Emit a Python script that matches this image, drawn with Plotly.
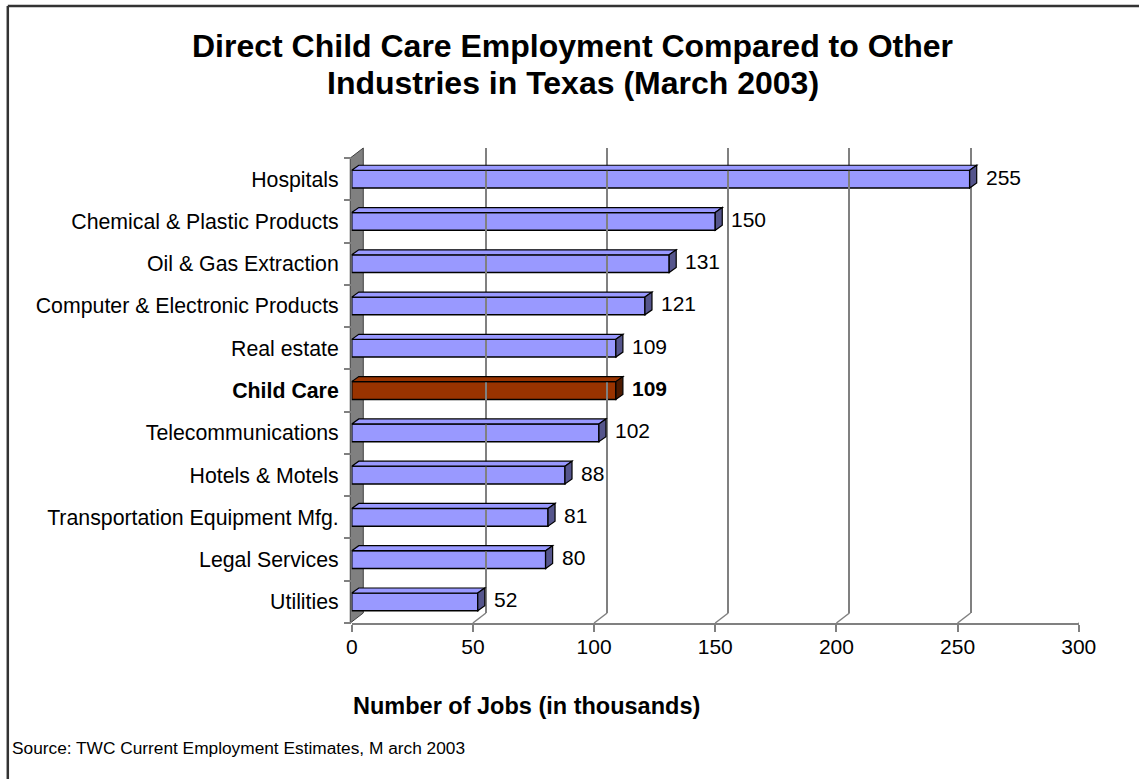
import plotly.graph_objects as go

# ---------------- data ----------------
categories = ["Hospitals", "Chemical & Plastic Products", "Oil & Gas Extraction",
              "Computer & Electronic Products", "Real estate", "Child Care",
              "Telecommunications", "Hotels & Motels", "Transportation Equipment Mfg.",
              "Legal Services", "Utilities"]
values = [255, 150, 131, 121, 109, 109, 102, 88, 81, 80, 52]
highlight = "Child Care"
x_ticks = [0, 50, 100, 150, 200, 250, 300]

title_line1 = "Direct Child Care Employment Compared to Other"
title_line2 = "Industries in Texas (March 2003)"
xaxis_title = "Number of Jobs (in thousands)"
source_text = "Source: TWC Current Employment Estimates, M arch 2003"

# ---------------- style / geometry ----------------
# The photographed page maps page-x to picture-x as  sx = KX * x + BX,
# so horizontal positions are given in picture pixels and converted.
KX, BX = 0.978, 6.2
W, H = 1160, 779
FONT = "Arial, Liberation Sans, sans-serif"
BAR = "#9999FF"; BAR_SIDE = "#55558C"
HI = "#993300"; HI_SIDE = "#4D1A00"
GRID = "#808080"

def px(sx):
    return ((sx - BX) / KX) / W

def py(y):
    return 1 - y / H

# front plane (bars, tick labels), picture pixels
FX0, FX1 = 351.5, 1077.5
FY0, FY1 = 158, 623
# back plane (gridlines), 3-D depth offset
DX, DY = 13, 10
XMAX = x_ticks[-1]
scale = (FX1 - FX0) / XMAX
n = len(categories)
idx = list(range(n))
bw = 0.42
dx_u = 7 / scale              # bar depth in data units (x)
dy_u = 5 / ((FY1 - FY0) / n)  # bar depth in data units (y)

colors = [HI if c == highlight else BAR for c in categories]
side_colors = [HI_SIDE if c == highlight else BAR_SIDE for c in categories]
ticktext = [f"<b>{c}</b>" if c == highlight else c for c in categories]

fig = go.Figure()
fig.add_trace(go.Bar(
    x=values, y=idx, orientation="h", width=bw,
    marker=dict(color=colors, line=dict(color="black", width=1.5)),
    hoverinfo="skip", showlegend=False))
# invisible trace to hold the back-wall axes
fig.add_trace(go.Scatter(x=[None], y=[None], xaxis="x2", yaxis="y2",
                         showlegend=False, hoverinfo="skip"))

shapes = []
# outer border (only top and left edges are inside the picture)
shapes.append(dict(type="line", xref="paper", yref="paper",
                   x0=px(8), x1=1, y0=py(6), y1=py(6),
                   line=dict(color="#333333", width=2.5), layer="below"))
shapes.append(dict(type="line", xref="paper", yref="paper",
                   x0=px(8), x1=px(8), y0=0, y1=py(6),
                   line=dict(color="#333333", width=2.5), layer="below"))
# left grey wall
wall = (f"M {px(350)},{py(FY1)} L {px(350 + DX)},{py(FY1 - DY)} "
        f"L {px(350 + DX)},{py(FY0 - DY)} L {px(350)},{py(FY0)} Z")
shapes.append(dict(type="path", xref="paper", yref="paper", path=wall,
                   fillcolor="#808080", line=dict(color="#404040", width=1), layer="below"))
# floor diagonals from front ticks to back gridlines
for t in x_ticks[1:]:
    shapes.append(dict(type="line", xref="x", yref="paper",
                       x0=t, x1=t + DX / scale, y0=py(FY1), y1=py(FY1 - DY),
                       line=dict(color=GRID, width=1.5), layer="below"))
# 3-D faces of bars
for i, v in enumerate(values):
    yt = i - bw / 2
    yb = i + bw / 2
    top = (f"M 0,{yt} L {v},{yt} L {v + dx_u},{yt - dy_u} L {dx_u},{yt - dy_u} Z")
    side = (f"M {v},{yt} L {v + dx_u},{yt - dy_u} L {v + dx_u},{yb - dy_u} L {v},{yb} Z")
    shapes.append(dict(type="path", xref="x", yref="y", path=top,
                       fillcolor=colors[i], line=dict(color="black", width=1.2)))
    shapes.append(dict(type="path", xref="x", yref="y", path=side,
                       fillcolor=side_colors[i], line=dict(color="black", width=1.2)))

annotations = []
for i, v in enumerate(values):
    txt = f"<b>{v}</b>" if categories[i] == highlight else str(v)
    annotations.append(dict(x=v, y=i, xref="x", yref="y", text=txt, showarrow=False,
                            xanchor="left", yanchor="middle", xshift=14, yshift=2,
                            font=dict(size=21, color="black", family=FONT)))
for line, yc in ((title_line1, 46), (title_line2, 83)):
    annotations.append(dict(x=px(572), y=py(yc), xref="paper", yref="paper", text=f"<b>{line}</b>",
                            showarrow=False, xanchor="center", yanchor="middle",
                            font=dict(size=32, color="black", family=FONT)))
annotations.append(dict(x=px(526), y=py(706), xref="paper", yref="paper", text=f"<b>{xaxis_title}</b>",
                        showarrow=False, xanchor="center", yanchor="middle",
                        font=dict(size=23.5, color="black", family=FONT)))
annotations.append(dict(x=px(10), y=py(748), xref="paper", yref="paper", text=source_text,
                        showarrow=False, xanchor="left", yanchor="middle",
                        font=dict(size=17.3, color="black", family=FONT)))

fig.update_layout(
    width=W, height=H,
    margin=dict(l=0, r=0, t=0, b=0),
    paper_bgcolor="white", plot_bgcolor="rgba(0,0,0,0)",
    font=dict(family=FONT, size=21, color="black"),
    xaxis=dict(domain=[px(FX0), px(FX1)], range=[0, XMAX], anchor="y",
               tickvals=x_ticks, ticks="outside", ticklen=7, tickcolor=GRID, tickwidth=1.5,
               showline=True, linecolor=GRID, linewidth=1.5, showgrid=False, zeroline=False,
               ticklabelstandoff=-3,
               tickfont=dict(size=21, family=FONT)),
    yaxis=dict(domain=[py(FY1), py(FY0)], range=[n - 0.5, -0.5], anchor="x",
               tickvals=idx, ticktext=ticktext, ticks="", showline=False, showgrid=False,
               zeroline=False, ticklabelstandoff=12,
               tickfont=dict(size=21.3, family=FONT),
               minor=dict(tickvals=[i - 0.5 for i in range(n + 1)], ticks="outside",
                          ticklen=7, tickcolor=GRID, tickwidth=1.5)),
    xaxis2=dict(domain=[px(FX0 + DX), px(FX1 + DX)], range=[0, XMAX], anchor="y2",
                tickvals=x_ticks, showticklabels=False, ticks="", showgrid=True,
                gridcolor=GRID, gridwidth=1.5, showline=False, zeroline=False),
    yaxis2=dict(domain=[py(FY1 - DY), py(FY0 - DY)], range=[0, 1], anchor="x2",
                showticklabels=False, showgrid=False, zeroline=False, showline=False),
    shapes=shapes, annotations=annotations,
)

fig.write_html("out.html", config={"displayModeBar": False},
               post_script="document.body.style.margin='0';document.body.style.overflow='hidden';")
